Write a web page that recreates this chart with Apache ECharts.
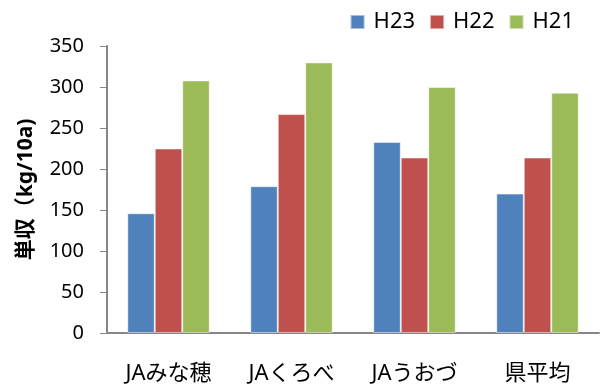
<!DOCTYPE html>
<html><head><meta charset="utf-8">
<script src="https://cdn.jsdelivr.net/npm/echarts@6/dist/echarts.min.js"></script>
<style>html,body{margin:0;padding:0;background:#fff}#c{width:604px;height:385px}</style>
</head><body><div id="c"></div>
<script>
const categories = ['JAみな穂', 'JAくろべ', 'JAうおづ', '県平均'];
const seriesNames = ['H23', 'H22', 'H21'];
const h23 = [146, 179, 233, 170];
const h22 = [225, 267, 214, 214];
const h21 = [308, 330, 300, 293];
const colors = ['#4F81BD', '#C0504D', '#9BBB59'];
const font = '"Noto Sans", "Noto Sans CJK JP", sans-serif';
const chart = echarts.init(document.getElementById('c'), null, {renderer: 'canvas'});
const data = [h23, h22, h21];
chart.setOption({
  animation: false,
  textStyle: {fontFamily: font},
  legend: {
    data: seriesNames, right: 25, top: 6, itemWidth: 14, itemHeight: 14, itemGap: 14,
    icon: 'rect',
    textStyle: {fontSize: 22, color: '#000', fontFamily: font, padding: [0, 0, 0, 4]}
  },
  grid: {left: 107, right: 5, top: 46, bottom: 51, containLabel: false},
  xAxis: {
    type: 'category', data: categories,
    axisLine: {lineStyle: {color: '#868686', width: 2}},
    axisTick: {show: false},
    axisLabel: {fontSize: 22, color: '#000', margin: 30, fontFamily: font}
  },
  yAxis: {
    type: 'value', min: 0, max: 350, interval: 50,
    name: '単収（kg/10a)', nameLocation: 'middle', nameGap: 70,
    nameTextStyle: {fontSize: 21, fontWeight: 'bold', color: '#000', fontFamily: font},
    axisLine: {show: true, lineStyle: {color: '#868686', width: 2}},
    axisTick: {show: true, length: 7, lineStyle: {color: '#868686'}},
    splitLine: {show: false},
    axisLabel: {fontSize: 20, color: '#000', margin: 23, fontFamily: font}
  },
  series: seriesNames.map((n, i) => ({
    name: n, type: 'bar', data: data[i], barGap: '0%', barCategoryGap: '33%',
    itemStyle: {color: colors[i], borderColor: 'rgba(255,255,255,0.5)', borderWidth: 1}
  }))
});
</script></body></html>
